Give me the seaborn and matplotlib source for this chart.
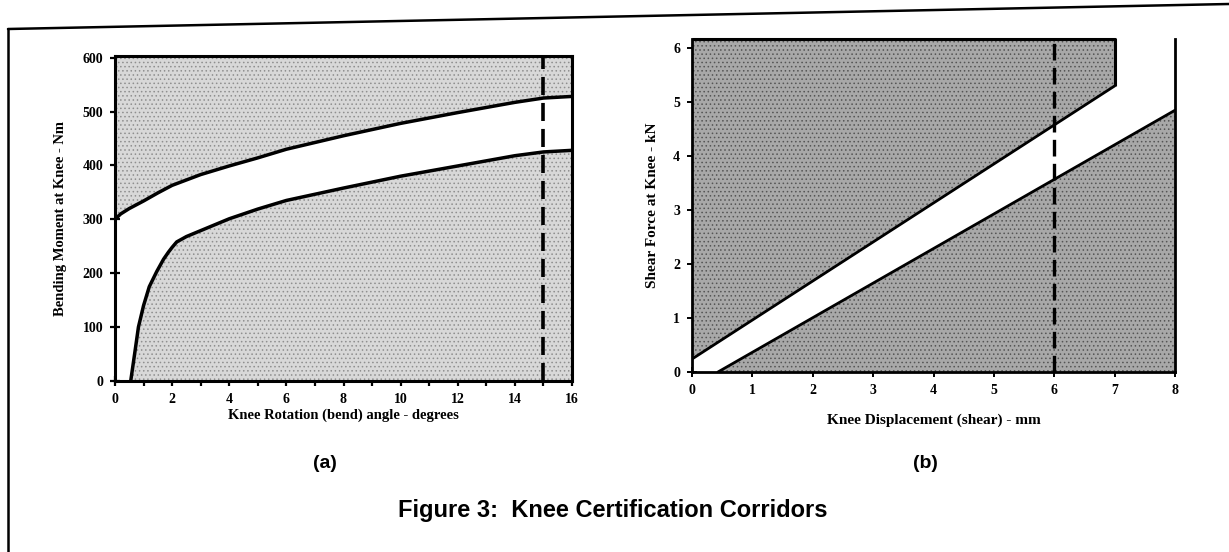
import numpy as np
import pandas as pd
import matplotlib
matplotlib.use("Agg")
import matplotlib.pyplot as plt
from matplotlib.lines import Line2D
import seaborn as sns

# ---------------- data ----------------
# (a) bending corridor
bend_upper_x = [0, 0.2, 0.5, 1, 1.5, 2, 3, 4, 5, 6, 8, 10, 12, 14, 15, 16]
bend_upper_y = [300, 310, 320, 334, 349, 363, 383, 399, 414, 430, 455, 478, 498, 517, 525, 528]
bend_lower_x = [0.55, 0.7, 0.82, 1.0, 1.2, 1.46, 1.7, 1.87, 2.0, 2.16, 2.5, 3, 4, 5, 6, 8, 10, 12, 14, 15, 16]
bend_lower_y = [0, 55, 100, 140, 175, 203, 226, 239, 248, 258, 268, 279, 301, 319, 335, 358, 380, 399, 418, 425, 428]
bend_top = 603
bend_limit_x = 15
bend_xticks = [0, 2, 4, 6, 8, 10, 12, 14, 16]
bend_yticks = [0, 100, 200, 300, 400, 500, 600]

# (b) shear corridor
shear_upper_x = [0, 7]
shear_upper_y = [0.24, 5.30]
shear_lower_x = [0.43, 8]
shear_lower_y = [0, 4.85]
shear_top = 6.17
shear_limit_x = 6
shear_xticks = [0, 1, 2, 3, 4, 5, 6, 7, 8]
shear_yticks = [0, 1, 2, 3, 4, 5, 6]

labels = {
    "a_x": "Knee Rotation (bend) angle - degrees",
    "a_y": "Bending Moment at Knee - Nm",
    "b_x": "Knee Displacement (shear) - mm",
    "b_y": "Shear Force at Knee - kN",
    "a": "(a)",
    "b": "(b)",
    "title": "Figure 3:  Knee Certification Corridors",
}

# ---------------- style ----------------
sns.set_style("ticks")
plt.rcParams["font.family"] = ["Liberation Serif", "DejaVu Serif"]
plt.rcParams["hatch.linewidth"] = 0.6
for k in ["text.color", "axes.labelcolor", "xtick.color", "ytick.color", "axes.edgecolor"]:
    plt.rcParams[k] = "black"

W, H = 1229, 552
fig = plt.figure(figsize=(W / 100, H / 100), dpi=100)
fig.patch.set_facecolor("white")

def px_axes(x0, x1, y_bottom, y_top):
    return fig.add_axes([x0 / W, 1 - y_bottom / H, (x1 - x0) / W, (y_bottom - y_top) / H])

ax1 = px_axes(115, 572, 381, 56)
ax2 = px_axes(692, 1175, 372, 39)

tick_font = dict(family=["Liberation Serif"], weight="bold", size=10)

# ---------------- panel (a) ----------------
dfa_u = pd.DataFrame({"x": bend_upper_x, "y": bend_upper_y})
dfa_l = pd.DataFrame({"x": bend_lower_x, "y": bend_lower_y})

fill_a = dict(facecolor="#d8d8d8", edgecolor="#8f8f8f", hatch="....", linewidth=0)
ax1.fill_between(dfa_u["x"], dfa_u["y"], bend_top, **fill_a)
ax1.fill_between(dfa_l["x"], 0, dfa_l["y"], **fill_a)
sns.lineplot(data=dfa_u, x="x", y="y", ax=ax1, color="black", linewidth=2.5, sort=False)
sns.lineplot(data=dfa_l, x="x", y="y", ax=ax1, color="black", linewidth=2.5, sort=False)
ax1.vlines(bend_limit_x, 0, bend_top, colors="black", linestyles=(0, (5, 2.2)), linewidth=2.6)

ax1.set_xlim(0, 16)
ax1.set_ylim(0, bend_top)
ax1.set_xticks(bend_xticks)
ax1.set_xticks(np.arange(0, 17, 1), minor=True)
ax1.set_yticks(bend_yticks)
ax1.set_xticklabels([str(t) for t in bend_xticks], **tick_font)
ax1.set_yticklabels([str(t) for t in bend_yticks], **tick_font)
ax1.tick_params(axis="both", which="both", direction="inout", length=7, width=1.6, pad=5)
for s in ax1.spines.values():
    s.set_linewidth(2.2)
    s.set_color("black")
ax1.set_xlabel(labels["a_x"], family=["Liberation Serif"], weight="bold", size=10.5, labelpad=2)
ax1.set_ylabel(labels["a_y"], family=["Liberation Serif"], weight="bold", size=10.5, labelpad=11)

# ---------------- panel (b) ----------------
dfb_u = pd.DataFrame({"x": shear_upper_x, "y": shear_upper_y})
dfb_l = pd.DataFrame({"x": shear_lower_x, "y": shear_lower_y})

fill_b = dict(facecolor="#a8a8a8", edgecolor="#555555", hatch="....", linewidth=0)
ux = [shear_upper_x[0], shear_upper_x[0], shear_upper_x[1], shear_upper_x[1]]
uy = [shear_upper_y[0], shear_top, shear_top, shear_upper_y[1]]
ax2.fill(ux, uy, **fill_b)
ax2.fill([shear_lower_x[0], shear_lower_x[1], shear_lower_x[1]],
         [shear_lower_y[0], shear_lower_y[1], 0], **fill_b)
ax2.plot([shear_upper_x[0], shear_upper_x[1], shear_upper_x[1]],
         [shear_top, shear_top, shear_upper_y[1]], color="black", linewidth=2.2,
         clip_on=False, solid_capstyle="butt")
sns.lineplot(data=dfb_u, x="x", y="y", ax=ax2, color="black", linewidth=2.0)
sns.lineplot(data=dfb_l, x="x", y="y", ax=ax2, color="black", linewidth=2.0)
ax2.vlines(shear_limit_x, 0, shear_top, colors="black", linestyles=(0, (5, 2.2)), linewidth=2.4)

ax2.set_xlim(0, 8)
ax2.set_ylim(0, shear_top)
ax2.set_xticks(shear_xticks)
ax2.set_yticks(shear_yticks)
ax2.set_xticklabels([str(t) for t in shear_xticks], **tick_font)
ax2.set_yticklabels([str(t) for t in shear_yticks], **tick_font)
ax2.tick_params(axis="both", which="both", direction="inout", length=7, width=1.4, pad=5)
ax2.spines["top"].set_visible(False)
for k in ["left", "bottom", "right"]:
    ax2.spines[k].set_linewidth(2.0)
    ax2.spines[k].set_color("black")
ax2.set_xlabel(labels["b_x"], family=["Liberation Serif"], weight="bold", size=11, labelpad=12)
ax2.set_ylabel(labels["b_y"], family=["Liberation Serif"], weight="bold", size=11, labelpad=10)

# ---------------- captions & frame ----------------
fig.text(325 / W, 1 - 463 / H, labels["a"], ha="center", va="center",
         family=["Liberation Sans"], weight="bold", size=14, color="black")
fig.text(925 / W, 1 - 463 / H, labels["b"], ha="center", va="center",
         family=["Liberation Sans"], weight="bold", size=14, color="black")
fig.text(613 / W, 1 - 511 / H, labels["title"], ha="center", va="center",
         family=["Liberation Sans"], weight="bold", size=17, color="black")

fig.add_artist(Line2D([8 / W, 1.0], [1 - 29 / H, 1 - 4 / H], transform=fig.transFigure,
                      color="black", linewidth=1.8))
fig.add_artist(Line2D([8 / W, 8 / W], [1 - 29 / H, 0.0], transform=fig.transFigure,
                      color="black", linewidth=1.8))

fig.savefig("out.png", dpi=100, facecolor="white")
